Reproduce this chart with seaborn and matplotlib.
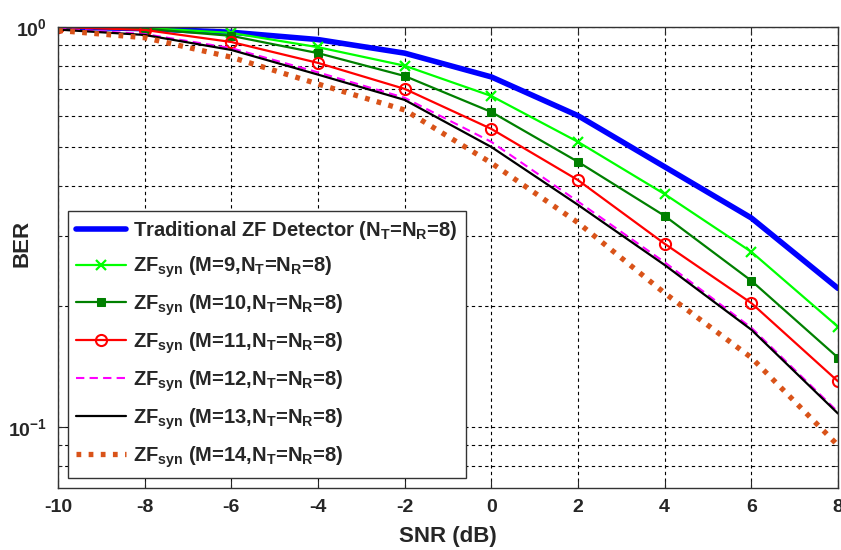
import numpy as np
import pandas as pd
import matplotlib
matplotlib.use("Agg")
import matplotlib.pyplot as plt
import matplotlib.ticker as mticker
import seaborn as sns

# SNR points (dB)
snr = [-10, -8, -6, -4, -2, 0, 2, 4, 6, 8]

# BER
ber_trad = [1.0, 0.99, 0.97, 0.93, 0.86, 0.75, 0.60, 0.447, 0.333, 0.222]
ber_m9 = [1.0, 0.995, 0.966, 0.89, 0.80, 0.672, 0.516, 0.382, 0.274, 0.178]
ber_m10 = [1.0, 0.99, 0.95, 0.86, 0.754, 0.613, 0.46, 0.337, 0.232, 0.149]
ber_m11 = [1.0, 0.983, 0.917, 0.813, 0.70, 0.556, 0.414, 0.287, 0.204, 0.130]
ber_m12 = [0.99, 0.96, 0.885, 0.77, 0.665, 0.516, 0.366, 0.258, 0.177, 0.109]
ber_m13 = [0.985, 0.955, 0.876, 0.76, 0.657, 0.501, 0.359, 0.254, 0.175, 0.108]
ber_m14 = [0.98, 0.94, 0.84, 0.72, 0.62, 0.457, 0.324, 0.216, 0.149, 0.0899]

labels = [
    r"Traditional ZF Detector (N$_T$=N$_R$=8)",
    r"ZF$_{syn}$ (M=9,N$_T$=N$_R$=8)",
    r"ZF$_{syn}$ (M=10,N$_T$=N$_R$=8)",
    r"ZF$_{syn}$ (M=11,N$_T$=N$_R$=8)",
    r"ZF$_{syn}$ (M=12,N$_T$=N$_R$=8)",
    r"ZF$_{syn}$ (M=13,N$_T$=N$_R$=8)",
    r"ZF$_{syn}$ (M=14,N$_T$=N$_R$=8)",
]

sns.set_style("ticks")
plt.rcParams["font.family"] = ["Liberation Sans", "DejaVu Sans"]
plt.rcParams["font.weight"] = "bold"
plt.rcParams["axes.unicode_minus"] = False
plt.rcParams["mathtext.fontset"] = "custom"
plt.rcParams["mathtext.rm"] = "Liberation Sans:bold"
plt.rcParams["mathtext.it"] = "Liberation Sans:bold"
plt.rcParams["mathtext.bf"] = "Liberation Sans:bold"
plt.rcParams["mathtext.default"] = "rm"

fig, ax = plt.subplots(figsize=(8.41, 5.5), dpi=100)

series = [ber_trad, ber_m9, ber_m10, ber_m11, ber_m12, ber_m13, ber_m14]
styles = [
    dict(color="#0000ff", lw=4.0, ls="-", marker=None),
    dict(color="#00ff00", lw=1.6, ls="-", marker="x", ms=7, mew=1.6),
    dict(color="#008000", lw=1.6, ls="-", marker="s", ms=5.5),
    dict(color="#ff0000", lw=1.6, ls="-", marker="o", ms=8, mfc="none", mew=1.5),
    dict(color="#ff00ff", lw=1.5, ls=(0, (4, 2.5)), marker=None),
    dict(color="#000000", lw=1.6, ls="-", marker=None),
    dict(color="#d95319", lw=3.8, ls=(0, (0.9, 1.4)), marker=None),
]

for vals, lab, st in zip(series, labels, styles):
    st = dict(st)
    sns.lineplot(x=snr, y=vals, ax=ax, label=lab, color=st.pop("color"),
                 linewidth=st.pop("lw"), linestyle=st.pop("ls"),
                 marker=st.pop("marker"), markeredgecolor=None, **st)

ax.set_yscale("log")
ax.set_xlim(-10, 8)
ax.set_ylim(0.0704, 1.0)
ax.set_xticks(snr)
ax.yaxis.set_major_locator(mticker.LogLocator(base=10, numticks=5))
ax.yaxis.set_minor_locator(mticker.LogLocator(base=10, subs=np.arange(2, 10), numticks=10))
ax.yaxis.set_minor_formatter(mticker.NullFormatter())

ax.grid(True, which="major", color="black", linestyle=(0, (3, 3)), linewidth=0.8)
ax.grid(True, which="minor", axis="y", color="black", linestyle=(0, (3, 3)), linewidth=0.8)

ax.tick_params(which="both", direction="in", top=True, right=True)
ax.tick_params(which="major", length=6, labelsize=14, pad=8)
ax.tick_params(which="minor", length=3)
for lbl in ax.get_xticklabels() + ax.get_yticklabels():
    lbl.set_fontweight("bold")
for sp in ax.spines.values():
    sp.set_color("#333333")
    sp.set_linewidth(1.0)

ax.set_xlabel("SNR (dB)", fontsize=16, fontweight="bold", labelpad=7)
ax.set_ylabel("BER", fontsize=16, fontweight="bold")
ax.yaxis.set_label_coords(-0.033, 0.531)

leg = ax.legend(loc="lower left", bbox_to_anchor=(0.0128, 0.0217), borderaxespad=0,
                handlelength=2.5, handletextpad=0.35, labelspacing=0.62,
                borderpad=0.4, frameon=True, fancybox=False, framealpha=1.0,
                edgecolor="#333333", prop=dict(weight="bold", size=14.5))
leg.get_frame().set_linewidth(1.0)

fig.subplots_adjust(left=0.069, right=0.9964, top=0.951, bottom=0.113)
fig.savefig("out.png", dpi=100)
